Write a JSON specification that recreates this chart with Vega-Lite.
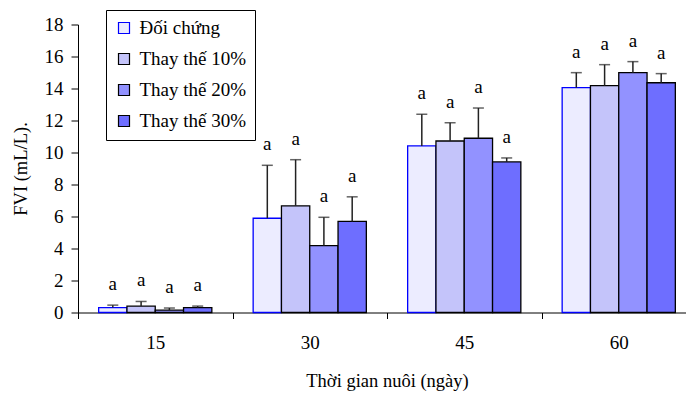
{
  "$schema": "https://vega.github.io/schema/vega-lite/v6.json",
  "width": 608,
  "height": 288,
  "autosize": "none",
  "padding": {"left": 78, "top": 24.5, "right": 0, "bottom": 80.5},
  "background": "white",
  "config": {
    "font": "Liberation Serif",
    "view": {"stroke": null},
    "axis": {
      "labelFont": "Liberation Serif",
      "titleFont": "Liberation Serif",
      "labelFontSize": 19,
      "titleFontSize": 18.5,
      "titleFontWeight": "normal",
      "labelColor": "#000",
      "titleColor": "#000",
      "domainColor": "#000",
      "tickColor": "#000",
      "labelOverlap": false,
      "grid": false
    },
    "axisY": {
      "values": [0, 2, 4, 6, 8, 10, 12, 14, 16, 18],
      "tickSize": 7,
      "labelPadding": 8,
      "titlePadding": 14
    },
    "legend": {
      "labelFont": "Liberation Serif",
      "labelFontSize": 19,
      "labelColor": "#000"
    }
  },
  "data": {
    "values": [
      {"day": "15", "group": "Đối chứng", "value": 0.31, "upper": 0.46, "sig": "a"},
      {"day": "15", "group": "Thay thế 10%", "value": 0.4, "upper": 0.69, "sig": "a"},
      {"day": "15", "group": "Thay thế 20%", "value": 0.15, "upper": 0.28, "sig": "a"},
      {"day": "15", "group": "Thay thế 30%", "value": 0.31, "upper": 0.4, "sig": "a"},
      {"day": "30", "group": "Đối chứng", "value": 5.89, "upper": 9.2, "sig": "a"},
      {"day": "30", "group": "Thay thế 10%", "value": 6.67, "upper": 9.55, "sig": "a"},
      {"day": "30", "group": "Thay thế 20%", "value": 4.18, "upper": 5.95, "sig": "a"},
      {"day": "30", "group": "Thay thế 30%", "value": 5.69, "upper": 7.23, "sig": "a"},
      {"day": "45", "group": "Đối chứng", "value": 10.41, "upper": 12.39, "sig": "a"},
      {"day": "45", "group": "Thay thế 10%", "value": 10.72, "upper": 11.86, "sig": "a"},
      {"day": "45", "group": "Thay thế 20%", "value": 10.89, "upper": 12.78, "sig": "a"},
      {"day": "45", "group": "Thay thế 30%", "value": 9.41, "upper": 9.66, "sig": "a"},
      {"day": "60", "group": "Đối chứng", "value": 14.05, "upper": 14.99, "sig": "a"},
      {"day": "60", "group": "Thay thế 10%", "value": 14.18, "upper": 15.49, "sig": "a"},
      {"day": "60", "group": "Thay thế 20%", "value": 14.99, "upper": 15.68, "sig": "a"},
      {"day": "60", "group": "Thay thế 30%", "value": 14.36, "upper": 14.93, "sig": "a"}
    ]
  },
  "encoding": {
    "x": {
      "field": "day",
      "type": "nominal",
      "sort": ["15", "30", "45", "60"],
      "scale": {"range": [0, 618], "paddingInner": 0, "paddingOuter": 0},
      "axis": {
        "title": "Thời gian nuôi (ngày)",
        "labelAngle": 0,
        "tickBand": "extent",
        "tickSize": 6,
        "labelPadding": 15,
        "titlePadding": 19
      }
    },
    "xOffset": {
      "field": "group",
      "type": "nominal",
      "sort": ["Đối chứng", "Thay thế 10%", "Thay thế 20%", "Thay thế 30%"],
      "scale": {"paddingInner": 0, "paddingOuter": 0.73}
    }
  },
  "layer": [
    {
      "mark": {"type": "bar", "strokeWidth": 1.3},
      "encoding": {
        "y": {
          "field": "value",
          "type": "quantitative",
          "scale": {"domain": [0, 18], "nice": false},
          "axis": {"title": "FVI (mL/L)."}
        },
        "fill": {
          "field": "group",
          "type": "nominal",
          "sort": ["Đối chứng", "Thay thế 10%", "Thay thế 20%", "Thay thế 30%"],
          "scale": {
            "domain": ["Đối chứng", "Thay thế 10%", "Thay thế 20%", "Thay thế 30%"],
            "range": ["#ececff", "#c4c4fa", "#9292ff", "#6e6eff"]
          },
          "legend": {
            "title": null,
            "orient": "none",
            "legendX": 28,
            "legendY": -14.5,
            "strokeColor": "#000",
            "fillColor": "#fff",
            "padding": 8.5,
            "rowPadding": 11,
            "symbolType": "square",
            "symbolSize": 121,
            "symbolStrokeWidth": 1.2,
            "labelOffset": 6
          }
        },
        "stroke": {
          "field": "group",
          "type": "nominal",
          "scale": {
            "domain": ["Đối chứng", "Thay thế 10%", "Thay thế 20%", "Thay thế 30%"],
            "range": ["#0000ff", "#000000", "#000000", "#000000"]
          },
          "legend": null
        }
      }
    },
    {
      "mark": {"type": "rule", "color": "#222", "strokeWidth": 1.5},
      "encoding": {
        "y": {"field": "value", "type": "quantitative", "axis": {"title": "FVI (mL/L)."}},
        "y2": {"field": "upper"}
      }
    },
    {
      "mark": {"type": "tick", "color": "#222", "size": 11, "thickness": 1.5},
      "encoding": {
        "y": {"field": "upper", "type": "quantitative", "axis": {"title": "FVI (mL/L)."}}
      }
    },
    {
      "mark": {"type": "text", "fontSize": 19, "font": "Liberation Serif", "baseline": "alphabetic", "dy": -15, "color": "#000"},
      "encoding": {
        "y": {"field": "upper", "type": "quantitative", "axis": {"title": "FVI (mL/L)."}},
        "text": {"field": "sig"}
      }
    }
  ]
}
